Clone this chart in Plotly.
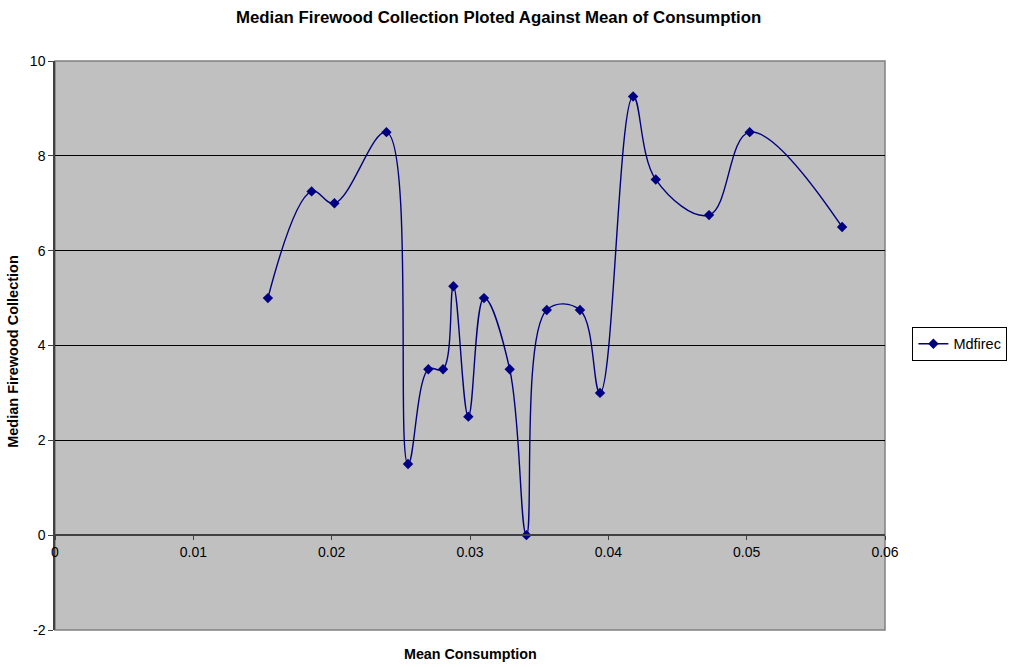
import plotly.graph_objects as go

# Mean consumption (x) and median firewood collection (y)
mean_consumption = [0.01539, 0.01855, 0.02020, 0.02396, 0.02552, 0.02699, 0.02805,
                    0.02880, 0.02988, 0.03101, 0.03287, 0.03408, 0.03555, 0.03795,
                    0.03940, 0.04179, 0.04343, 0.04728, 0.05022, 0.05690]
median_firewood = [5.0, 7.25, 7.0, 8.5, 1.5, 3.5, 3.5,
                   5.25, 2.5, 5.0, 3.5, 0.0, 4.75, 4.75,
                   3.0, 9.25, 7.5, 6.75, 8.5, 6.5]

series_name = "Mdfirec"
x_ticks = [0, 0.01, 0.02, 0.03, 0.04, 0.05, 0.06]
x_tick_text = ["0", "0.01", "0.02", "0.03", "0.04", "0.05", "0.06"]
y_ticks = [-2, 0, 2, 4, 6, 8, 10]
y_tick_text = ["-2", "0", "2", "4", "6", "8", "10"]

NAVY = "#000080"
FONT = "Liberation Sans, Arial, sans-serif"

fig = go.Figure()
fig.add_trace(go.Scatter(
    x=mean_consumption, y=median_firewood, name=series_name,
    mode="lines+markers",
    line=dict(color=NAVY, width=1.4, shape="spline", smoothing=1.1),
    marker=dict(symbol="diamond", size=8, color=NAVY),
))

fig.update_layout(
    width=1013, height=667,
    margin=dict(l=55, r=128, t=61, b=37, autoexpand=False),
    paper_bgcolor="white",
    plot_bgcolor="#C0C0C0",
    font=dict(family=FONT, size=14, color="black"),
    showlegend=True,
    legend=dict(
        x=1.033, y=0.503, xanchor="left", yanchor="middle",
        bgcolor="white", bordercolor="black", borderwidth=1,
        font=dict(size=14.5), itemwidth=30,
    ),
    xaxis=dict(
        range=[0, 0.06], tickvals=x_ticks, ticktext=x_tick_text,
        anchor="free", position=2 / 12,
        showgrid=False, zeroline=False,
        showline=True, linecolor="#404040", linewidth=1.5,
        ticks="outside", ticklen=4, tickcolor="#404040",
        tickfont=dict(size=14),
    ),
    yaxis=dict(
        range=[-2, 10], tickvals=y_ticks, ticktext=y_tick_text,
        showgrid=True, gridcolor="black", gridwidth=1,
        zeroline=False,
        showline=True, linecolor="#404040", linewidth=1.5,
        ticks="outside", ticklen=5, tickcolor="#404040",
        tickfont=dict(size=14),
    ),
    annotations=[
        dict(text="<b>Median Firewood Collection Ploted Against Mean of Consumption</b>",
             xref="paper", yref="paper", x=0.5347, y=1.077,
             showarrow=False, font=dict(size=16.8), xanchor="center", yanchor="middle"),
        dict(text="<b>Mean Consumption</b>",
             xref="paper", yref="paper", x=0.5, y=-0.042,
             showarrow=False, font=dict(size=14.3), xanchor="center", yanchor="middle"),
        dict(text="<b>Median Firewood Collection</b>",
             xref="paper", yref="paper", x=-0.0499, y=0.49,
             textangle=-90, showarrow=False, font=dict(size=14.5),
             xanchor="center", yanchor="middle"),
    ],
    shapes=[
        dict(type="rect", xref="paper", yref="paper", x0=0, x1=1, y0=0, y1=1,
             line=dict(color="#808080", width=1.5), layer="below"),
    ],
)

fig.write_html("out.html")
